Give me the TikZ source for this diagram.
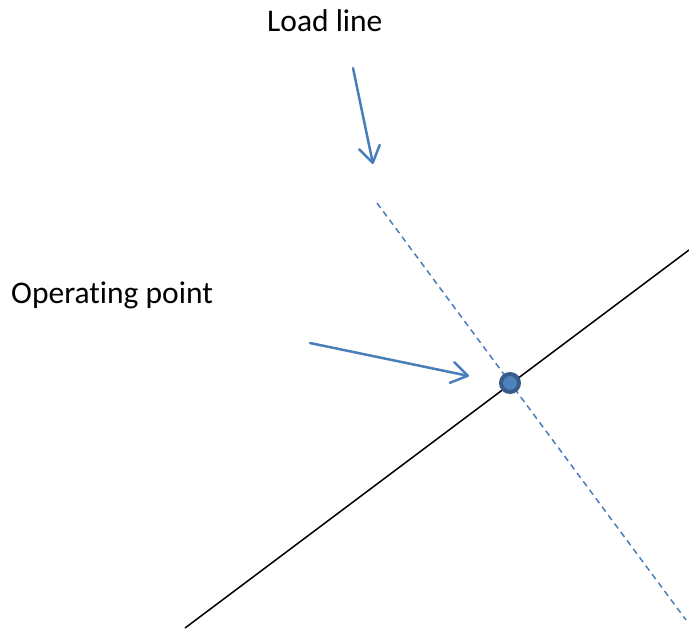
\documentclass[tikz,border=0pt]{standalone}
\usepackage{fontspec}
\setmainfont[Ligatures=NoCommon]{Carlito}
\usetikzlibrary{arrows.meta}
\definecolor{ptrblue}{HTML}{4A7EBB}
\definecolor{dotfill}{HTML}{4F81BD}
\definecolor{dotedge}{HTML}{385D8A}
\tikzset{
  label text/.style={inner sep=0pt, anchor=base west, font=\fontsize{31.5}{37}\selectfont},
  pointer/.style={draw=ptrblue, line width=2.5pt, line cap=round,
    -{Straight Barb[length=16pt,width=21pt,line cap=round,line join=round]}},
  loadline/.style={draw=ptrblue, line width=1.5pt, dash pattern=on 6pt off 4.5pt},
  characteristic/.style={draw=black, line width=1.5pt},
  opdot/.style={circle, draw=dotedge, fill=dotfill, line width=4pt, minimum size=18pt, inner sep=0pt}
}
\begin{document}
\begin{tikzpicture}[x=1pt, y=-1pt]
  \useasboundingbox (0,0) rectangle (689,630);

  % labels
  \node[label text] (loadlbl) at (267,31) {Load line};
  \node[label text] (oplbl) at (11,303) {Operating point};

  % end points of the straight lines
  \coordinate (ll-start) at (377,203);
  \coordinate (ll-end) at (686,620);
  \coordinate (ch-start) at (185,628);
  \coordinate (ch-end) at (689,250);

  % pointer end points
  \coordinate (p1-start) at (353,68);
  \coordinate (p1-tip) at (373,164);
  \coordinate (p2-start) at (310,343);
  \coordinate (p2-tip) at (469,376);

  % characteristic and load line
  \draw[characteristic] (ch-start) -- (ch-end);
  \draw[loadline] (ll-start) -- (ll-end);

  % operating point
  \node[opdot] (op) at (510,383) {};

  % pointers
  \draw[pointer] (p1-start) -- (p1-tip);
  \draw[pointer] (p2-start) -- (p2-tip);
\end{tikzpicture}
\end{document}
